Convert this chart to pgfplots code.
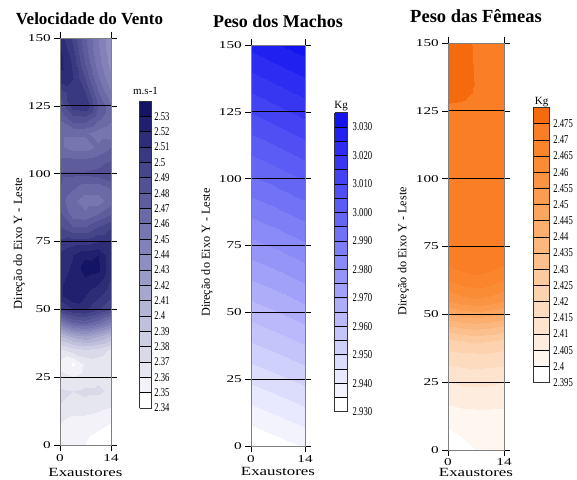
\documentclass[border=0pt]{standalone}
\usepackage{pgfplots}
\pgfplotsset{compat=1.18}
\usepackage{pgfplotstable}
\usepackage{fontspec}
\setmainfont{Liberation Serif}
\newfontfamily\tickfont[FakeStretch=1.45]{Liberation Serif}
\newfontfamily\xlfont[FakeStretch=1.35]{Liberation Serif}
\newfontfamily\cbfont[FakeStretch=0.72]{Liberation Serif}

% Velocidade do Vento (m.s-1)
\pgfplotstableread{
x y z
0 0 2.354
3.5 0 2.352
7 0 2.350
10.5 0 2.346
14 0 2.342
0 5 2.356
3.5 5 2.353
7 5 2.352
10.5 5 2.350
14 5 2.346
0 10 2.362
3.5 10 2.358
7 10 2.358
10.5 10 2.356
14 10 2.352
0 15 2.370
3.5 15 2.368
7 15 2.368
10.5 15 2.365
14 15 2.362
0 20 2.372
3.5 20 2.370
7 20 2.372
10.5 20 2.372
14 20 2.368
0 25 2.362
3.5 25 2.360
7 25 2.365
10.5 25 2.368
14 25 2.368
0 30 2.358
3.5 30 2.348
7 30 2.362
10.5 30 2.365
14 30 2.362
0 35 2.368
3.5 35 2.375
7 35 2.378
10.5 35 2.375
14 35 2.368
0 40 2.400
3.5 40 2.415
7 40 2.420
10.5 40 2.412
14 40 2.398
0 45 2.450
3.5 45 2.468
7 45 2.472
10.5 45 2.462
14 45 2.445
0 50 2.498
3.5 50 2.510
7 50 2.512
10.5 50 2.502
14 50 2.490
0 55 2.517
3.5 55 2.530
7 55 2.520
10.5 55 2.512
14 55 2.502
0 60 2.518
3.5 60 2.525
7 60 2.527
10.5 60 2.522
14 60 2.508
0 65 2.515
3.5 65 2.522
7 65 2.535
10.5 65 2.533
14 65 2.512
0 70 2.512
3.5 70 2.520
7 70 2.528
10.5 70 2.530
14 70 2.512
0 75 2.502
3.5 75 2.505
7 75 2.505
10.5 75 2.510
14 75 2.510
0 80 2.492
3.5 80 2.482
7 80 2.482
10.5 80 2.492
14 80 2.500
0 85 2.482
3.5 85 2.465
7 85 2.462
10.5 85 2.470
14 85 2.480
0 90 2.475
3.5 90 2.462
7 90 2.455
10.5 90 2.455
14 90 2.465
0 95 2.480
3.5 95 2.472
7 95 2.465
10.5 95 2.465
14 95 2.472
0 100 2.482
3.5 100 2.482
7 100 2.482
10.5 100 2.484
14 100 2.490
0 105 2.472
3.5 105 2.472
7 105 2.472
10.5 105 2.475
14 105 2.480
0 110 2.462
3.5 110 2.455
7 110 2.455
10.5 110 2.462
14 110 2.470
0 115 2.462
3.5 115 2.462
7 115 2.462
10.5 115 2.455
14 115 2.450
0 120 2.472
3.5 120 2.485
7 120 2.485
10.5 120 2.472
14 120 2.462
0 125 2.483
3.5 125 2.505
7 125 2.510
10.5 125 2.480
14 125 2.462
0 130 2.495
3.5 130 2.505
7 130 2.500
10.5 130 2.470
14 130 2.450
0 135 2.515
3.5 135 2.510
7 135 2.490
10.5 135 2.462
14 135 2.442
0 140 2.523
3.5 140 2.508
7 140 2.480
10.5 140 2.455
14 140 2.436
0 145 2.522
3.5 145 2.503
7 145 2.475
10.5 145 2.452
14 145 2.433
0 150 2.515
3.5 150 2.497
7 150 2.472
10.5 150 2.450
14 150 2.432
}\velo

% Peso dos Machos (Kg)
\pgfplotstableread{
x y z
0 0 2.9290
14 0 2.9355
0 150 3.0265
14 150 3.0330
}\machos

% Peso das Femeas (Kg)
\pgfplotstableread{
x y z
0 0 2.3962
3.5 0 2.3985
7 0 2.4000
10.5 0 2.4004
14 0 2.4004
0 5 2.3985
3.5 5 2.4002
7 5 2.4010
10.5 5 2.4012
14 5 2.4012
0 10 2.4012
3.5 10 2.4022
7 10 2.4028
10.5 10 2.4030
14 10 2.4030
0 15 2.4040
3.5 15 2.4048
7 15 2.4050
10.5 15 2.4050
14 15 2.4048
0 20 2.4070
3.5 20 2.4078
7 20 2.4080
10.5 20 2.4078
14 20 2.4072
0 25 2.4100
3.5 25 2.4108
7 25 2.4110
10.5 25 2.4108
14 25 2.4100
0 30 2.4140
3.5 30 2.4145
7 30 2.4150
10.5 30 2.4145
14 30 2.4140
0 35 2.4180
3.5 35 2.4190
7 35 2.4190
10.5 35 2.4190
14 35 2.4180
0 40 2.4240
3.5 40 2.4250
7 40 2.4260
10.5 40 2.4250
14 40 2.4240
0 45 2.4330
3.5 45 2.4350
7 45 2.4360
10.5 45 2.4350
14 45 2.4330
0 50 2.4450
3.5 50 2.4470
7 50 2.4480
10.5 50 2.4470
14 50 2.4450
0 55 2.4550
3.5 55 2.4575
7 55 2.4590
10.5 55 2.4575
14 55 2.4550
0 60 2.4620
3.5 60 2.4645
7 60 2.4655
10.5 60 2.4645
14 60 2.4620
0 65 2.4680
3.5 65 2.4695
7 65 2.4702
10.5 65 2.4695
14 65 2.4680
0 70 2.4712
3.5 70 2.4720
7 70 2.4726
10.5 70 2.4720
14 70 2.4712
0 75 2.4730
3.5 75 2.4730
7 75 2.4730
10.5 75 2.4730
14 75 2.4730
0 80 2.4730
3.5 80 2.4730
7 80 2.4730
10.5 80 2.4730
14 80 2.4730
0 85 2.4730
3.5 85 2.4730
7 85 2.4730
10.5 85 2.4730
14 85 2.4730
0 90 2.4730
3.5 90 2.4730
7 90 2.4730
10.5 90 2.4730
14 90 2.4730
0 95 2.4730
3.5 95 2.4730
7 95 2.4730
10.5 95 2.4730
14 95 2.4730
0 100 2.4730
3.5 100 2.4730
7 100 2.4730
10.5 100 2.4730
14 100 2.4730
0 105 2.4730
3.5 105 2.4730
7 105 2.4730
10.5 105 2.4730
14 105 2.4730
0 110 2.4730
3.5 110 2.4730
7 110 2.4730
10.5 110 2.4730
14 110 2.4730
0 115 2.4730
3.5 115 2.4730
7 115 2.4730
10.5 115 2.4730
14 115 2.4730
0 120 2.4732
3.5 120 2.4732
7 120 2.4732
10.5 120 2.4732
14 120 2.4730
0 125 2.4740
3.5 125 2.4738
7 125 2.4734
10.5 125 2.4732
14 125 2.4730
0 130 2.4758
3.5 130 2.4755
7 130 2.4742
10.5 130 2.4732
14 130 2.4730
0 135 2.4775
3.5 135 2.4768
7 135 2.4747
10.5 135 2.4732
14 135 2.4730
0 140 2.4778
3.5 140 2.4768
7 140 2.4745
10.5 140 2.4732
14 140 2.4730
0 145 2.4778
3.5 145 2.4768
7 145 2.4745
10.5 145 2.4732
14 145 2.4730
0 150 2.4778
3.5 150 2.4768
7 150 2.4742
10.5 150 2.4732
14 150 2.4730
}\femeas

\pgfplotsset{
  colormap={velo}{rgb255=(255,255,255) rgb255=(242,242,248) rgb255=(230,230,241)
    rgb255=(217,217,234) rgb255=(205,205,227) rgb255=(192,192,220) rgb255=(180,180,213)
    rgb255=(167,167,206) rgb255=(155,155,199) rgb255=(142,142,192) rgb255=(130,130,185)
    rgb255=(118,118,176) rgb255=(106,106,166) rgb255=(93,93,157) rgb255=(81,81,147)
    rgb255=(69,69,138) rgb255=(57,57,129) rgb255=(45,45,119) rgb255=(32,32,110)
    rgb255=(20,20,100)},
  colormap={machos}{rgb255=(255,255,255) rgb255=(243,243,254) rgb255=(232,232,254)
    rgb255=(220,220,253) rgb255=(208,208,252) rgb255=(196,196,251) rgb255=(185,185,251)
    rgb255=(173,173,250) rgb255=(161,161,249) rgb255=(149,149,248) rgb255=(138,138,248)
    rgb255=(126,126,247) rgb255=(114,114,246) rgb255=(102,102,245) rgb255=(91,91,245)
    rgb255=(79,79,244) rgb255=(67,67,243) rgb255=(55,55,242) rgb255=(44,44,242)
    rgb255=(32,32,241) rgb255=(20,20,240)},
  colormap={femeas}{rgb255=(255,255,255) rgb255=(255,246,239) rgb255=(254,237,223)
    rgb255=(254,228,207) rgb255=(253,219,191) rgb255=(253,210,175) rgb255=(253,201,159)
    rgb255=(252,192,143) rgb255=(252,183,127) rgb255=(252,174,111) rgb255=(251,165,95)
    rgb255=(251,156,80) rgb255=(251,148,66) rgb255=(250,140,54) rgb255=(250,133,45)
    rgb255=(250,126,37) rgb255=(245,106,12)},
  panel/.style={
    scale only axis, axis on top,
    xmin=0, xmax=14, ymin=0, ymax=150,
    xtick={0,14}, ytick={0,25,50,75,100,125,150},
    tick pos=both, xticklabel pos=lower, yticklabel pos=left,
    tick align=outside, major tick length=6pt,
    tick style={black, line width=0.6pt},
    ymajorgrids, grid style={black, line width=0.8pt},
    axis line style={gray, line width=0.6pt},
    /pgf/number format/assume math mode=true,
    tick label style={font=\tickfont\fontsize{10.5}{12}\selectfont},
    xticklabel style={anchor=base, inner sep=0pt, yshift=-10.5pt},
    yticklabel style={anchor=east, inner sep=0pt, xshift=-3pt},
    colormap access=piecewise constant,
    xlabel={Exaustores},
    ylabel={Direção do Eixo Y - Leste},
  },
  cbar/.style={
    scale only axis, axis on top,
    major tick length=0pt, minor tick length=0pt,
    ymajorgrids, grid style={black, line width=0.6pt},
    axis line style={black!80, line width=0.6pt},
    yticklabel pos=right,
    /pgf/number format/assume math mode=true,
    yticklabel style={font=\cbfont\fontsize{12}{12}\selectfont, anchor=west, inner sep=0pt},
    every axis title/.style={font=\fontsize{11}{12}\selectfont, at={(0.5,1)}, anchor=base, inner sep=0pt},
  },
}

\begin{document}
\begin{tikzpicture}
\useasboundingbox (0,0) rectangle (577pt,479pt);

% ---------------- Panel 1 ----------------
\begin{axis}[panel,
  at={(60pt,34pt)}, anchor=south west, width=51pt, height=407pt,
  colormap name=velo, point meta min=2.34, point meta max=2.54,
  title={Velocidade do Vento},
  every axis title/.style={font=\bfseries\fontsize{17}{20}\selectfont, at={(0.5,1)}, anchor=base, inner sep=0pt, yshift=13pt, xshift=4pt},
  every axis x label/.style={font=\xlfont\fontsize{12.5}{14}\selectfont, at={(axis description cs:0.5,0)}, anchor=base, inner sep=0pt, yshift=-31pt},
  every axis y label/.style={font=\fontsize{12.5}{14}\selectfont, at={(axis description cs:-0.804,0.495)}, rotate=90, anchor=center, inner sep=0pt},
  colorbar,
  colorbar style={cbar, at={(parent axis.north east)}, anchor=north west,
    xshift=20pt, yshift=-63pt, width=12pt, height=307pt,
    ytick={2.34,2.35,2.36,2.37,2.38,2.39,2.40,2.41,2.42,2.43,2.44,2.45,2.46,2.47,2.48,2.49,2.50,2.51,2.52,2.53},
    yticklabels={2.34,2.35,2.36,2.37,2.38,2.39,2.4,2.41,2.42,2.43,2.44,2.45,2.46,2.47,2.48,2.49,2.5,2.51,2.52,2.53},
    yticklabel style={xshift=2.7pt},
    title={m.s-1}, title style={yshift=6pt}},
]
\addplot[surf, shader=interp, mesh/cols=5, point meta=\thisrow{z}] table[x=x, y=y] {\velo};
\end{axis}

% ---------------- Panel 2 ----------------
\begin{axis}[panel,
  at={(251pt,33pt)}, anchor=south west, width=54pt, height=401pt,
  colormap name=machos, point meta min=2.930, point meta max=3.035,
  title={Peso dos Machos},
  every axis title/.style={font=\bfseries\fontsize{18}{20}\selectfont, at={(0.5,1)}, anchor=base, inner sep=0pt, yshift=17pt},
  every axis x label/.style={font=\xlfont\fontsize{12.5}{14}\selectfont, at={(axis description cs:0.5,0)}, anchor=base, inner sep=0pt, yshift=-29pt},
  every axis y label/.style={font=\fontsize{12.2}{14}\selectfont, at={(axis description cs:-0.815,0.4825)}, rotate=90, anchor=center, inner sep=0pt},
  colorbar,
  colorbar style={cbar, at={(parent axis.north east)}, anchor=north west,
    xshift=21pt, yshift=-67.7pt, width=13pt, height=299pt,
    yminorgrids, minor grid style={black, line width=0.6pt},
    ytick={2.93,2.94,2.95,2.96,2.97,2.98,2.99,3.00,3.01,3.02,3.03},
    yticklabels={2.930,2.940,2.950,2.960,2.970,2.980,2.990,3.000,3.010,3.020,3.030},
    minor ytick={2.935,2.945,2.955,2.965,2.975,2.985,2.995,3.005,3.015,3.025},
    yticklabel style={xshift=5pt},
    title={Kg}, title style={yshift=4pt}},
]
\addplot[surf, shader=interp, mesh/cols=2, point meta=\thisrow{z}] table[x=x, y=y] {\machos};
\end{axis}

% ---------------- Panel 3 ----------------
\begin{axis}[panel,
  at={(448pt,29pt)}, anchor=south west, width=56pt, height=407pt,
  colormap name=femeas, point meta min=2.395, point meta max=2.480,
  title={Peso das Fêmeas},
  every axis title/.style={font=\bfseries\fontsize{18.5}{20}\selectfont, at={(0.5,1)}, anchor=base, inner sep=0pt, yshift=20pt},
  every axis x label/.style={font=\xlfont\fontsize{12.5}{14}\selectfont, at={(axis description cs:0.5,0)}, anchor=base, inner sep=0pt, yshift=-26.5pt},
  every axis y label/.style={font=\fontsize{12.2}{14}\selectfont, at={(axis description cs:-0.795,0.488)}, rotate=90, anchor=center, inner sep=0pt},
  xticklabel style={yshift=1.5pt},
  colorbar,
  colorbar style={cbar, at={(parent axis.north east)}, anchor=north west,
    xshift=21pt, yshift=-64.5pt, width=16pt, height=275pt,
    ytick={2.395,2.400,2.405,2.410,2.415,2.420,2.425,2.430,2.435,2.440,2.445,2.450,2.455,2.460,2.465,2.470,2.475},
    yticklabels={2.395,2.4,2.405,2.41,2.415,2.42,2.425,2.43,2.435,2.44,2.445,2.45,2.455,2.46,2.465,2.47,2.475},
    yticklabel style={xshift=3.7pt},
    title={Kg}, title style={yshift=3pt}},
]
\addplot[surf, shader=interp, mesh/cols=5, point meta=\thisrow{z}] table[x=x, y=y] {\femeas};
\end{axis}
\end{tikzpicture}
\end{document}
